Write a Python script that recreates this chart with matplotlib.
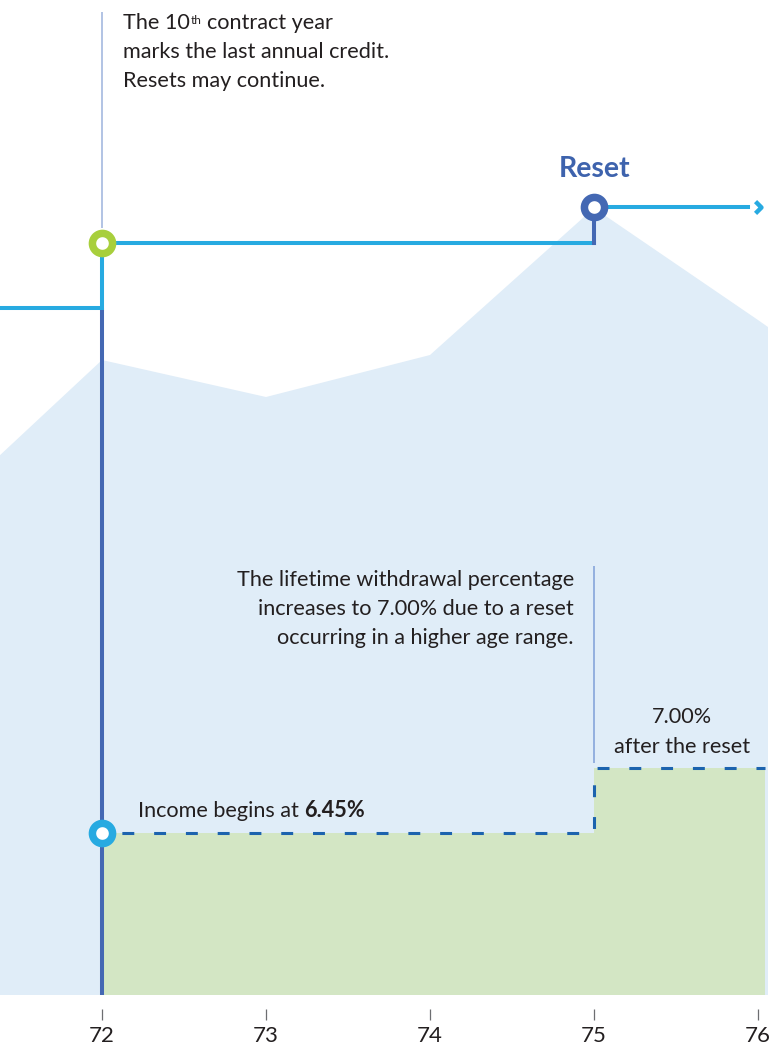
import matplotlib
matplotlib.use("Agg")
import matplotlib.pyplot as plt
from matplotlib.patches import Rectangle
from matplotlib.path import Path

plt.rcParams['font.family'] = ['Lato', 'DejaVu Sans']

# Values (vertical unit = chart height units)
av_ages = [71, 72, 73, 74, 75, 76, 77]
account_value = [482, 635, 598, 640, 787, 675, 560]

bb_ages = [71, 72, 75, 76]
benefit_base = [687, 752, 788, 788]

pct_ages = [72, 75, 76.04]
pct_height = [162, 227, 227]

tick_ages = [72, 73, 74, 75, 76]
tick_labels = ['72', '73', '74', '75', '76']

# Colours
c_area = '#e0edf8'
c_green = '#d3e6c4'
c_cyan = '#27aae1'
c_navy = '#4468b3'
c_lime = '#a8cf3c'
c_dash = '#1c63ae'
c_text = '#231f20'

fig = plt.figure(figsize=(7.72, 10.5), dpi=100)
ax = fig.add_axes([0, 55 / 1050, 1, 995 / 1050])
ax.set_xlim(72 - 102 / 164, 72 + 670 / 164)
ax.set_ylim(0, 995)

# account value area
clip = Rectangle((70, 0), 76.06 - 70, 1000, transform=ax.transData)
poly = ax.fill_between(av_ages, account_value, 0, color=c_area, lw=0, zorder=1)
poly.set_clip_path(clip)

# withdrawal percentage area + dashed outline
ax.fill_between(pct_ages, pct_height, 0, step='post', color=c_green, lw=0, zorder=2)
ax.plot(pct_ages, pct_height, drawstyle='steps-post', color=c_dash, lw=2.2,
        linestyle=(3.9, (3.9, 6.5)), zorder=3)

# income start line
ax.vlines(bb_ages[1], 0, benefit_base[0], color=c_navy, lw=2.9, zorder=4)

# benefit base step line
ax.plot([bb_ages[0], bb_ages[1], bb_ages[1], bb_ages[2]],
        [benefit_base[0], benefit_base[0], benefit_base[1], benefit_base[1]],
        color=c_cyan, lw=2.9, solid_joinstyle='miter', zorder=5)
ax.plot([bb_ages[2], bb_ages[2]], [benefit_base[1], benefit_base[2]],
        color=c_navy, lw=2.9, zorder=5)
ax.plot([bb_ages[2], bb_ages[3] - 0.06], [benefit_base[2], benefit_base[3]],
        color=c_cyan, lw=2.9, zorder=5)
chevron = Path([(-0.5, -1), (0.5, 0), (-0.5, 1)], [Path.MOVETO, Path.LINETO, Path.LINETO])
ax.plot([bb_ages[3]], [benefit_base[3]], marker=chevron, ms=8.5, mfc='none',
        mec=c_cyan, mew=3.2, zorder=5)

# leader lines
ax.vlines(bb_ages[1], 767, 983, color='#9db3dc', lw=1.1, zorder=3)
ax.vlines(bb_ages[2], 232, 429, color='#7f9fd8', lw=1.1, zorder=3)

# circles
ring = dict(marker='o', ms=14.5, mfc='white', mew=5.4, zorder=6)
ax.plot([bb_ages[1]], [benefit_base[1]], mec=c_lime, **ring)
ax.plot([bb_ages[2]], [benefit_base[2]], mec=c_navy, **ring)
ax.plot([pct_ages[0]], [pct_height[0]], mec=c_cyan, **ring)

# texts
fs = 15.6
t1 = ax.text(72.128, 966, 'The 10', fontsize=fs, color=c_text, va='baseline')
t2 = ax.annotate('th', xy=(1, 966), xycoords=(t1, 'data'), xytext=(1, 5),
                 textcoords='offset pixels', fontsize=8.5, color=c_text, va='baseline')
ax.annotate('contract year', xy=(1, 966), xycoords=(t2, 'data'), xytext=(5, 0),
            textcoords='offset pixels', fontsize=fs, color=c_text, va='baseline')
ax.text(72.128, 937, 'marks the last annual credit.', fontsize=fs, color=c_text, va='baseline')
ax.text(72.128, 908, 'Resets may continue.', fontsize=fs, color=c_text, va='baseline')

ax.text(75.005, 818, 'Reset', fontsize=20.5, weight='bold', color='#3e63ad',
        ha='center', va='baseline')

for i, s in enumerate(['The lifetime withdrawal percentage',
                       'increases to 7.00% due to a reset',
                       'occurring in a higher age range.']):
    ax.text(74.878, 409 - 29 * i, s, fontsize=fs, color=c_text, ha='right', va='baseline')

ax.text(75.537, 272, '7.00%', fontsize=fs, color=c_text, ha='center', va='baseline')
ax.text(75.537, 242, 'after the reset', fontsize=fs, color=c_text, ha='center', va='baseline')

t3 = ax.text(72.22, 178, 'Income begins at', fontsize=fs, color=c_text, va='baseline')
ax.annotate('6.45%', xy=(1, 178), xycoords=(t3, 'data'), xytext=(5, 0),
            textcoords='offset pixels', fontsize=fs, weight='bold', color=c_text,
            va='baseline')

# axis
for s in ['left', 'right', 'top']:
    ax.spines[s].set_visible(False)
ax.spines['bottom'].set_position(('outward', 10))
ax.spines['bottom'].set_visible(False)
ax.set_yticks([])
ax.set_xticks(tick_ages)
ax.set_xticklabels(tick_labels, fontsize=16, color=c_text)
ax.tick_params(axis='x', direction='out', length=8, width=0.9, color='#6d6e71', pad=4)
ax.patch.set_visible(False)

fig.savefig('out.png', dpi=100)
